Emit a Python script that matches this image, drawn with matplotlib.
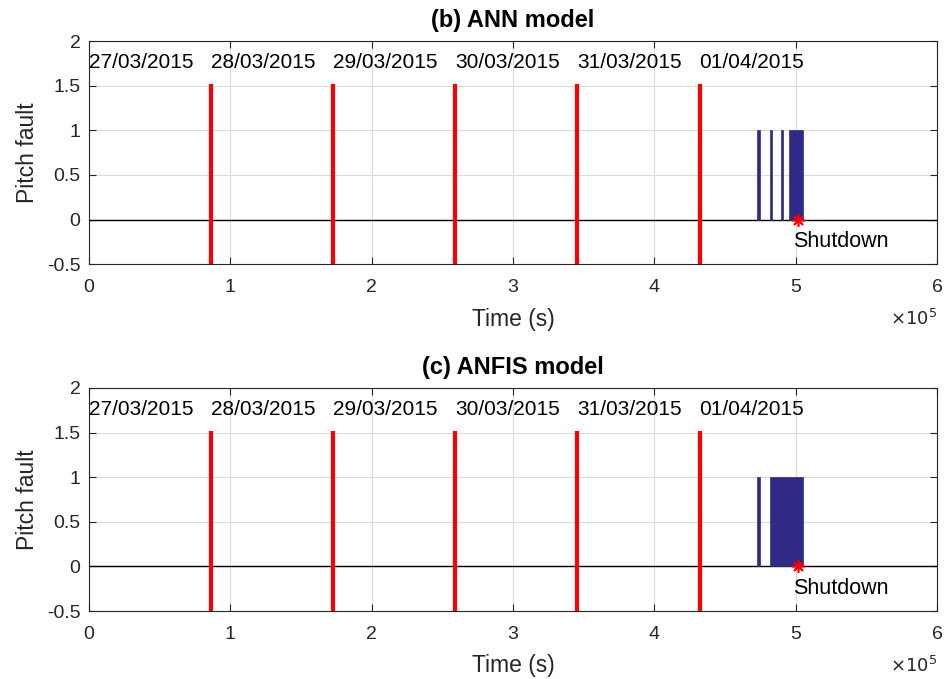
import matplotlib.pyplot as plt

plt.rcParams['font.family'] = ['Liberation Sans', 'DejaVu Sans']

day_starts = [0, 86400, 172800, 259200, 345600, 432000]
day_labels = ["27/03/2015", "28/03/2015", "29/03/2015", "30/03/2015", "31/03/2015", "01/04/2015"]
day_marks = [86400, 172800, 259200, 345600, 432000]
shutdown_t = 501500

ann_start = [472500, 481500, 489500, 495500]
ann_end = [474500, 483500, 491000, 505000]
anfis_start = [472500, 481500]
anfis_end = [474500, 505000]

titles = ["(b) ANN model", "(c) ANFIS model"]
faults = [(ann_start, ann_end), (anfis_start, anfis_end)]
positions = [[0.094, 0.611, 0.8965, 0.3286], [0.094, 0.100, 0.8965, 0.3286]]

fig = plt.figure(figsize=(9.46, 6.79), dpi=100)
for pos, title, (starts, ends) in zip(positions, titles, faults):
    ax = fig.add_axes(pos)
    ax.set_xlim(0, 600000)
    ax.set_ylim(-0.5, 2)
    ax.grid(True, color='#dcdcdc', linewidth=0.8)
    ax.set_axisbelow(True)
    ax.axhline(0, color='black', linewidth=1, zorder=2)
    widths = [e - s for s, e in zip(starts, ends)]
    ax.bar(starts, [1] * len(starts), width=widths, align='edge',
           color='#2e2a85', edgecolor='#2e2a85', linewidth=0.5, zorder=3)
    for d in day_marks:
        ax.plot([d, d], [-0.5, 1.5], color='red', linewidth=3, zorder=4)
    for x, lab in zip(day_starts, day_labels):
        ax.text(x, 1.76, lab, ha='left', va='center', fontsize=15, zorder=5)
    ax.plot(shutdown_t, 0, marker=(8, 2, 0), color='red', markersize=9,
            markeredgewidth=1.2, zorder=6)
    ax.text(shutdown_t - 3500, -0.25, "Shutdown", ha='left', va='center', fontsize=15.5)
    ax.set_xticks([0, 100000, 200000, 300000, 400000, 500000, 600000])
    ax.set_xticklabels(['0', '1', '2', '3', '4', '5', '6'])
    ax.set_yticks([-0.5, 0, 0.5, 1, 1.5, 2])
    ax.set_yticklabels(['-0.5', '0', '0.5', '1', '1.5', '2'])
    ax.tick_params(direction='in', top=True, right=True, labelsize=14,
                   colors='#262626', length=5)
    ax.tick_params(axis='x', pad=11)
    ax.tick_params(axis='y', pad=6)
    for s in ax.spines.values():
        s.set_color('#262626')
    ax.set_xlabel("Time (s)", fontsize=16.5, color='#262626', labelpad=8)
    ax.set_ylabel("Pitch fault", fontsize=16.5, color='#262626', labelpad=6)
    ax.set_title(title, fontsize=17, fontweight='bold', pad=10)
    ax.text(1.0, -0.245, r"$\times10^5$", transform=ax.transAxes, ha='right', va='center',
            fontsize=13, color='#262626')

fig.savefig("out.png", dpi=100)
plt.close(fig)
